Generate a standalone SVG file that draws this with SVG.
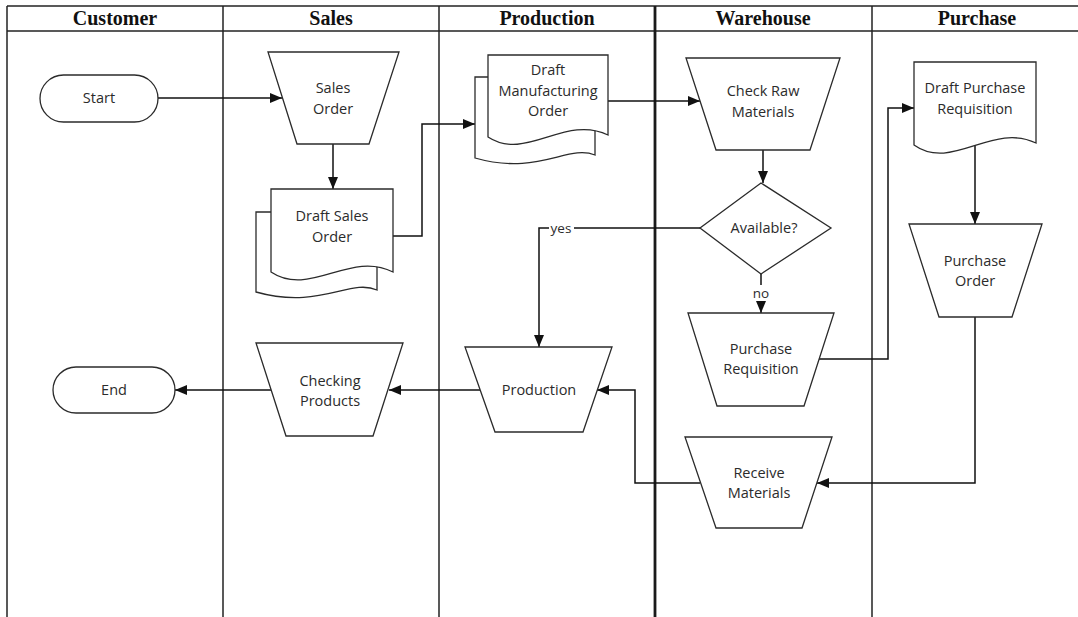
<svg xmlns="http://www.w3.org/2000/svg" width="1078" height="617" viewBox="0 0 1078 617">
  <defs>
    <style>
      .grid { stroke: #222; stroke-width: 1.5; fill: none; }
      .grid-bold { stroke: #1a1a1a; stroke-width: 2.8; fill: none; }
      .lane-title { font-family: "Liberation Serif", "Times New Roman", serif; font-weight: bold; font-size: 20px; fill: #111; text-anchor: middle; }
      .shape { fill: #fff; stroke: #2b2b2b; stroke-width: 1.3; }
      .label { font-family: "Open Sans", "Noto Sans", sans-serif; font-size: 14.5px; fill: #2b2b2b; text-anchor: middle; }
      .edge { fill: none; stroke: #111; stroke-width: 1.5; }
      .tag { font-family: "Open Sans", "Noto Sans", sans-serif; font-size: 13.5px; fill: #2b2b2b; text-anchor: middle; }
    </style>
    <marker id="arrow" viewBox="0 0 12 10" refX="12" refY="5" markerWidth="12" markerHeight="10" markerUnits="userSpaceOnUse" orient="auto">
      <path d="M0,0 L12,5 L0,10 z" fill="#111"/>
    </marker>
  </defs>

  <rect width="1078" height="617" fill="#fff"/>

  <!-- swimlane table -->
  <g id="lanes">
    <line class="grid" x1="7" y1="6" x2="1078" y2="6"/>
    <line class="grid" x1="7" y1="31" x2="1078" y2="31"/>
    <line class="grid" x1="7" y1="6" x2="7" y2="617"/>
    <line class="grid" x1="223" y1="6" x2="223" y2="617"/>
    <line class="grid" x1="439" y1="6" x2="439" y2="617"/>
    <line class="grid-bold" x1="655" y1="6" x2="655" y2="617"/>
    <line class="grid" x1="872" y1="6" x2="872" y2="617"/>
    <text class="lane-title" x="115" y="25">Customer</text>
    <text class="lane-title" x="331" y="25">Sales</text>
    <text class="lane-title" x="547" y="25">Production</text>
    <text class="lane-title" x="763" y="25">Warehouse</text>
    <text class="lane-title" x="977" y="25">Purchase</text>
  </g>

  <!-- connectors -->
  <g id="connectors">
    <path class="edge" d="M158,98 H282" marker-end="url(#arrow)"/>
    <path class="edge" d="M333,144 V189" marker-end="url(#arrow)"/>
    <path class="edge" d="M393,236 H422 V124 H475" marker-end="url(#arrow)"/>
    <path class="edge" d="M608,101 H700" marker-end="url(#arrow)"/>
    <path class="edge" d="M763,150 V183" marker-end="url(#arrow)"/>
    <path class="edge" d="M700,228 H539 V347" marker-end="url(#arrow)"/>
    <path class="edge" d="M761,274 V313" marker-end="url(#arrow)"/>
    <path class="edge" d="M819,359 H888 V108 H914" marker-end="url(#arrow)"/>
    <path class="edge" d="M975,140 V224" marker-end="url(#arrow)"/>
    <path class="edge" d="M975,317 V483 H817" marker-end="url(#arrow)"/>
    <path class="edge" d="M700,483 H635 V390 H597" marker-end="url(#arrow)"/>
    <path class="edge" d="M480,390 H389" marker-end="url(#arrow)"/>
    <path class="edge" d="M271,390 H175" marker-end="url(#arrow)"/>
    <rect x="549" y="220" width="25" height="16" fill="#fff"/>
    <text class="tag" x="561" y="233">yes</text>
    <rect x="750" y="285" width="22" height="16" fill="#fff"/>
    <text class="tag" x="761" y="298">no</text>
  </g>

  <!-- customer lane -->
  <g id="start">
    <rect class="shape" x="40" y="75" width="118" height="47" rx="23.5"/>
    <text class="label" x="99" y="103">Start</text>
  </g>
  <g id="end">
    <rect class="shape" x="53" y="367" width="122" height="46" rx="23"/>
    <text class="label" x="114" y="395">End</text>
  </g>

  <!-- sales lane -->
  <g id="sales-order">
    <polygon class="shape" points="268,52 399,52 369,144 297,144"/>
    <text class="label" x="333" y="93">Sales</text>
    <text class="label" x="333" y="114">Order</text>
  </g>
  <g id="draft-sales-order">
    <path class="shape" d="M256,212 H377 V290 C350,278 320,310 256,292 Z"/>
    <path class="shape" d="M271,189 H393 V272 C350,250 310,298 271,272 Z"/>
    <text class="label" x="332" y="221">Draft Sales</text>
    <text class="label" x="332" y="242">Order</text>
  </g>
  <g id="checking-products">
    <polygon class="shape" points="256,343 403,343 373,436 286,436"/>
    <text class="label" x="330" y="386">Checking</text>
    <text class="label" x="330" y="406">Products</text>
  </g>

  <!-- production lane -->
  <g id="draft-manufacturing-order">
    <path class="shape" d="M475,77 H595 V155 C568,144 538,176 475,158 Z"/>
    <path class="shape" d="M488,55 H608 V135 C565,114 526,162 488,137 Z"/>
    <text class="label" x="548" y="75">Draft</text>
    <text class="label" x="548" y="96">Manufacturing</text>
    <text class="label" x="548" y="116">Order</text>
  </g>
  <g id="production">
    <polygon class="shape" points="465,347 612,347 583,432 495,432"/>
    <text class="label" x="539" y="395">Production</text>
  </g>

  <!-- warehouse lane -->
  <g id="check-raw-materials">
    <polygon class="shape" points="686,58 840,58 810,150 716,150"/>
    <text class="label" x="763" y="96">Check Raw</text>
    <text class="label" x="763" y="117">Materials</text>
  </g>
  <g id="available">
    <polygon class="shape" points="761,183 831,228 761,274 700,228"/>
    <text class="label" x="764" y="233">Available?</text>
  </g>
  <g id="purchase-requisition">
    <polygon class="shape" points="688,313 834,313 804,406 717,406"/>
    <text class="label" x="761" y="354">Purchase</text>
    <text class="label" x="761" y="374">Requisition</text>
  </g>
  <g id="receive-materials">
    <polygon class="shape" points="685,437 832,437 802,528 716,528"/>
    <text class="label" x="759" y="478">Receive</text>
    <text class="label" x="759" y="498">Materials</text>
  </g>

  <!-- purchase lane -->
  <g id="draft-purchase-requisition">
    <path class="shape" d="M914,62 H1036 V143 C992,122 952,172 914,145 Z"/>
    <text class="label" x="975" y="93">Draft Purchase</text>
    <text class="label" x="975" y="114">Requisition</text>
  </g>
  <g id="purchase-order">
    <polygon class="shape" points="909,224 1042,224 1012,317 939,317"/>
    <text class="label" x="975" y="266">Purchase</text>
    <text class="label" x="975" y="286">Order</text>
  </g>
</svg>
